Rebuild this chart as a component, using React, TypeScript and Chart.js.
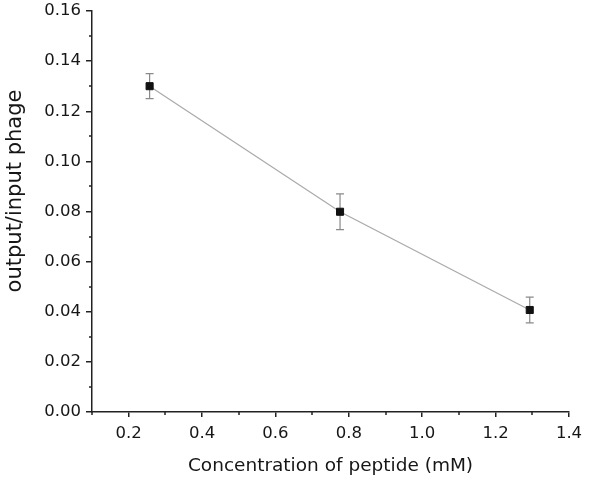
import React, { useEffect, useRef } from "react";
import { Chart, registerables } from "chart.js";

Chart.register(...registerables);

const concentrations = [0.257, 0.776, 1.293];
const ratios = [0.13, 0.0799, 0.0407];
const errors = [0.005, 0.0071, 0.0051];

const xMajorTicks = [0.2, 0.4, 0.6, 0.8, 1.0, 1.2, 1.4];
const xMinorTicks = [0.1, 0.3, 0.5, 0.7, 0.9, 1.1, 1.3];
const yMajorTicks = [0, 0.02, 0.04, 0.06, 0.08, 0.1, 0.12, 0.14, 0.16];
const yMinorTicks = [0.01, 0.03, 0.05, 0.07, 0.09, 0.11, 0.13, 0.15];

const xTitle = "Concentration of peptide (mM)";
const yTitle = "output/input phage";

const FONT = "'DejaVu Sans', sans-serif";
const TEXT = "#161616";

const errorBarPlugin = {
  id: "errorBars",
  beforeDatasetsDraw(chart: any) {
    const { ctx, scales } = chart;
    const xs = scales.x;
    const ys = scales.y;
    ctx.save();
    ctx.strokeStyle = "#8a8a8a";
    ctx.lineWidth = 1.2;
    concentrations.forEach((c, i) => {
      const px = xs.getPixelForValue(c);
      const top = ys.getPixelForValue(ratios[i] + errors[i]);
      const bot = ys.getPixelForValue(ratios[i] - errors[i]);
      ctx.beginPath();
      ctx.moveTo(px, top);
      ctx.lineTo(px, bot);
      ctx.moveTo(px - 4, top);
      ctx.lineTo(px + 4, top);
      ctx.moveTo(px - 4, bot);
      ctx.lineTo(px + 4, bot);
      ctx.stroke();
    });
    ctx.restore();
  },
  afterDraw(chart: any) {
    const { ctx, scales, chartArea } = chart;
    ctx.save();
    ctx.strokeStyle = "#222";
    ctx.lineWidth = 1.5;
    ctx.beginPath();
    xMinorTicks.forEach((v) => {
      const px = Math.round(scales.x.getPixelForValue(v));
      ctx.moveTo(px, chartArea.bottom);
      ctx.lineTo(px, chartArea.bottom + 3);
    });
    yMinorTicks.forEach((v) => {
      const py = Math.round(scales.y.getPixelForValue(v));
      ctx.moveTo(chartArea.left, py);
      ctx.lineTo(chartArea.left - 3, py);
    });
    ctx.stroke();
    // y axis title
    ctx.translate(16, 191);
    ctx.rotate(-Math.PI / 2);
    ctx.fillStyle = TEXT;
    ctx.font = `21px ${FONT}`;
    ctx.textAlign = "center";
    ctx.textBaseline = "middle";
    ctx.fillText(yTitle, 0, 0);
    ctx.restore();
  },
};

export default function App() {
  const ref = useRef<HTMLCanvasElement | null>(null);
  useEffect(() => {
    if (!ref.current) return;
    const chart = new Chart(ref.current, {
      type: "line",
      data: {
        datasets: [
          {
            data: concentrations.map((c, i) => ({ x: c, y: ratios[i] })),
            borderColor: "#ababab",
            borderWidth: 1.3,
            pointStyle: "rect",
            pointRadius: 5,
            pointBackgroundColor: "#111",
            pointBorderColor: "#111",
            pointBorderWidth: 1,
            tension: 0,
          },
        ],
      },
      options: {
        animation: false,
        responsive: false,
        layout: { padding: { top: 11, right: 31, left: 0, bottom: 0 } },
        plugins: { legend: { display: false }, tooltip: { enabled: false } },
        scales: {
          x: {
            type: "linear",
            min: 0.1,
            max: 1.4,
            afterBuildTicks: (s: any) => {
              s.ticks = xMajorTicks.map((v) => ({ value: v }));
            },
            afterFit: (s: any) => {
              s.height = 69;
              s.paddingLeft = 0;
              s.paddingRight = 0;
            },
            ticks: {
              color: TEXT,
              font: { family: FONT, size: 16.5 },
              padding: 7,
              maxRotation: 0,
              callback: (v: any) => Number(v).toFixed(1),
            },
            grid: { drawOnChartArea: false, drawTicks: true, tickLength: 5, color: "#222", lineWidth: 1.5 },
            border: { display: true, color: "#222", width: 1.5 },
            title: {
              display: true,
              text: xTitle,
              color: TEXT,
              font: { family: FONT, size: 18.5 },
              padding: { top: 5 },
            },
          },
          y: {
            type: "linear",
            min: 0,
            max: 0.16,
            afterBuildTicks: (s: any) => {
              s.ticks = yMajorTicks.map((v) => ({ value: v }));
            },
            afterFit: (s: any) => {
              s.width = 92;
              s.paddingTop = 0;
              s.paddingBottom = 0;
            },
            ticks: {
              color: TEXT,
              font: { family: FONT, size: 16.5 },
              padding: 5,
              callback: (v: any) => Number(v).toFixed(2),
            },
            grid: { drawOnChartArea: false, drawTicks: true, tickLength: 6, color: "#222", lineWidth: 1.5 },
            border: { display: true, color: "#222", width: 1.5 },
            title: { display: false },
          },
        },
      },
      plugins: [errorBarPlugin],
    } as any);
    return () => chart.destroy();
  }, []);
  return (
    <div style={{ position: "absolute", left: 0, top: 0, width: 600, height: 481, background: "#fff" }}>
      <canvas ref={ref} width={600} height={481} />
    </div>
  );
}
